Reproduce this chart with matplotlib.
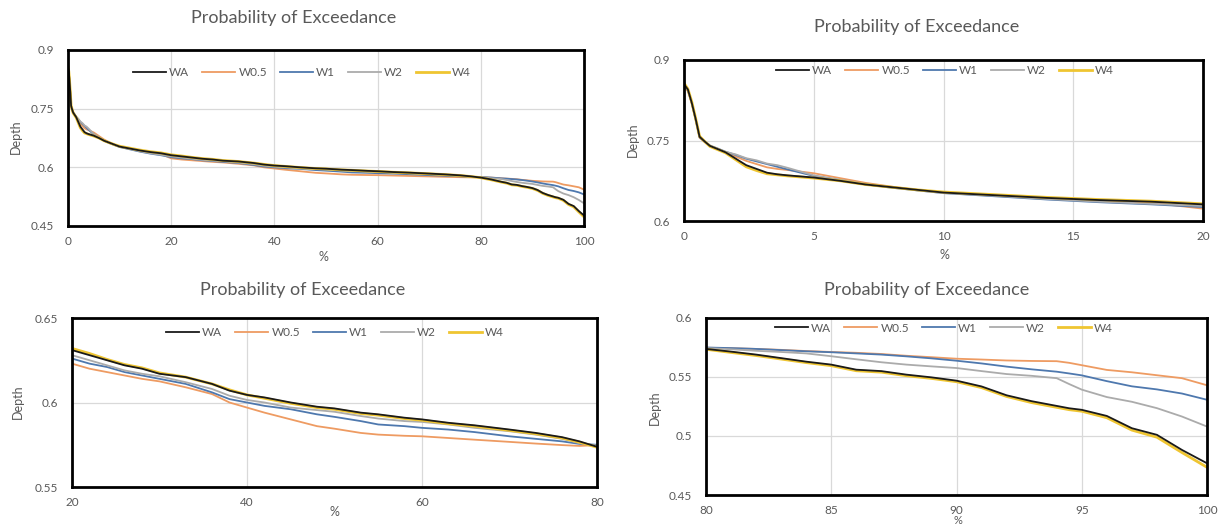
import matplotlib
matplotlib.use("Agg")
import matplotlib.pyplot as plt

plt.rcParams['font.family'] = ['Lato', 'DejaVu Sans']

# ---------------- data ----------------
pct = [0, 0.15, 0.3, 0.45, 0.6, 0.8, 1.0, 1.3, 1.6, 2.0, 2.4, 2.8, 3.2, 3.6, 4.0, 4.5, 5, 6, 7, 8, 9, 10, 12, 14, 16, 18,
       20, 22, 24, 26, 28, 30, 33, 36, 38, 40, 42, 45, 48, 50, 53, 55, 58, 60, 63, 66, 70, 73, 76, 78,
       80, 81, 82, 83, 84, 85, 86, 87, 88, 89, 90, 91, 92, 93, 94, 94.5, 95, 96, 97, 98, 99, 100]

depth_WA = [0.855, 0.845, 0.820, 0.790, 0.757, 0.748, 0.740, 0.734, 0.728, 0.716, 0.704, 0.697, 0.690, 0.687, 0.685, 0.683, 0.681, 0.675, 0.668, 0.663, 0.658, 0.653, 0.648, 0.643, 0.639, 0.636,
            0.631, 0.628, 0.625, 0.622, 0.620, 0.617, 0.615, 0.611, 0.607, 0.6045, 0.603, 0.600, 0.5975, 0.5965, 0.594, 0.593, 0.591, 0.590, 0.588, 0.5865, 0.584, 0.582, 0.5795, 0.577,
            0.5738, 0.5715, 0.5690, 0.5660, 0.5630, 0.5605, 0.5562, 0.5550, 0.5520, 0.5497, 0.5469, 0.5420, 0.5345, 0.5295, 0.5255, 0.5235, 0.5222, 0.5170, 0.5066, 0.5010, 0.4882, 0.4769]

depth_W05 = [0.852, 0.842, 0.818, 0.788, 0.755, 0.747, 0.739, 0.734, 0.728, 0.720, 0.712, 0.706, 0.700, 0.697, 0.695, 0.692, 0.689, 0.680, 0.671, 0.664, 0.658, 0.653, 0.647, 0.642, 0.637, 0.634,
             0.623, 0.620, 0.618, 0.616, 0.614, 0.6125, 0.609, 0.605, 0.600, 0.597, 0.594, 0.590, 0.586, 0.5845, 0.582, 0.581, 0.5803, 0.580, 0.579, 0.578, 0.5767, 0.5757, 0.5748, 0.5743,
             0.5748, 0.5744, 0.5738, 0.5730, 0.5720, 0.5712, 0.5705, 0.5695, 0.5680, 0.5668, 0.5655, 0.5648, 0.5640, 0.5636, 0.5634, 0.5620, 0.5600, 0.5560, 0.5540, 0.5515, 0.5490, 0.5430]

depth_W1 = [0.853, 0.844, 0.820, 0.789, 0.756, 0.748, 0.740, 0.735, 0.729, 0.723, 0.716, 0.711, 0.706, 0.701, 0.696, 0.690, 0.684, 0.676, 0.668, 0.662, 0.657, 0.652, 0.646, 0.640, 0.635, 0.631,
            0.626, 0.623, 0.621, 0.618, 0.616, 0.614, 0.611, 0.606, 0.602, 0.600, 0.598, 0.596, 0.593, 0.5915, 0.589, 0.587, 0.586, 0.585, 0.584, 0.5825, 0.580, 0.5785, 0.577, 0.5755,
            0.5750, 0.5745, 0.5738, 0.5728, 0.5718, 0.5710, 0.5700, 0.5690, 0.5675, 0.5658, 0.5638, 0.5615, 0.5588, 0.5565, 0.5545, 0.5530, 0.5514, 0.5465, 0.5421, 0.5395, 0.5360, 0.5307]

depth_W2 = [0.854, 0.844, 0.821, 0.790, 0.757, 0.749, 0.741, 0.735, 0.729, 0.724, 0.717, 0.713, 0.707, 0.704, 0.699, 0.692, 0.685, 0.677, 0.669, 0.663, 0.657, 0.652, 0.647, 0.641, 0.636, 0.632,
            0.628, 0.625, 0.622, 0.619, 0.617, 0.6155, 0.612, 0.608, 0.604, 0.6015, 0.600, 0.597, 0.5955, 0.5945, 0.592, 0.5905, 0.589, 0.5885, 0.587, 0.585, 0.583, 0.581, 0.5785, 0.576,
            0.5745, 0.5735, 0.5722, 0.5712, 0.5700, 0.5676, 0.5650, 0.5625, 0.5605, 0.5590, 0.5576, 0.5550, 0.5525, 0.5510, 0.5490, 0.5440, 0.5393, 0.5330, 0.5290, 0.5236, 0.5165, 0.5080]

depth_W4 = [0.857, 0.846, 0.822, 0.791, 0.758, 0.748, 0.739, 0.733, 0.727, 0.714, 0.701, 0.694, 0.688, 0.686, 0.684, 0.682, 0.680, 0.675, 0.668, 0.663, 0.658, 0.654, 0.649, 0.644, 0.640, 0.637,
            0.632, 0.629, 0.6255, 0.6225, 0.6205, 0.6175, 0.615, 0.611, 0.6075, 0.6045, 0.6025, 0.5995, 0.597, 0.596, 0.5935, 0.5925, 0.5905, 0.5895, 0.5875, 0.586, 0.5835, 0.5815, 0.579, 0.5765,
            0.5735, 0.5708, 0.5682, 0.5652, 0.5622, 0.5596, 0.5553, 0.5541, 0.5511, 0.5488, 0.5460, 0.5410, 0.5335, 0.5283, 0.5243, 0.5223, 0.5210, 0.5155, 0.5050, 0.4990, 0.4860, 0.4735]

series_names = ["WA", "W0.5", "W1", "W2", "W4"]
series_values = [depth_WA, depth_W05, depth_W1, depth_W2, depth_W4]

title_text = "Probability of Exceedance"
xlabel_text = "%"
ylabel_text = "Depth"

# panel ranges and ticks
p1_xticks = [0, 20, 40, 60, 80, 100]
p1_yticks = [0.45, 0.6, 0.75, 0.9]
p2_xticks = [0, 5, 10, 15, 20]
p2_yticks = [0.6, 0.75, 0.9]
p3_xticks = [20, 40, 60, 80]
p3_yticks = [0.55, 0.6, 0.65]
p4_xticks = [80, 85, 90, 95, 100]
p4_yticks = [0.45, 0.5, 0.55, 0.6]

# ---------------- style ----------------
colors = ["#1a1a1a", "#EE9B62", "#4E78AE", "#ABABAB", "#EFC531"]
lws = [1.3, 1.3, 1.3, 1.3, 2.0]
zords = [6, 2, 3, 4, 5]
txt_color = "#595959"

W, H = 1220, 525
fig = plt.figure(figsize=(W / 100, H / 100), dpi=100)


def rect(l, r, t, b):
    return [l / W, 1 - b / H, (r - l) / W, (b - t) / H]


def fmt(v):
    s = ("%.2f" % v).rstrip("0").rstrip(".")
    return s


panels = [
    dict(box=(68, 584, 50, 226), xt=p1_xticks, yt=p1_yticks,
         title=(294, 18), leg=(302, 73), ylab=(16, 137), xlab=(323, 257), xls=9),
    dict(box=(684, 1203, 60, 221), xt=p2_xticks, yt=p2_yticks,
         title=(917, 27), leg=(945, 71), ylab=(633, 140), xlab=(944, 255), xls=9),
    dict(box=(72, 597, 318, 487), xt=p3_xticks, yt=p3_yticks,
         title=(303, 290), leg=(335, 333), ylab=(18, 402), xlab=(334, 512), xls=9),
    dict(box=(706, 1207, 318, 495), xt=p4_xticks, yt=p4_yticks,
         title=(927, 290), leg=(944, 328), ylab=(655, 408), xlab=(958, 520), xls=8),
]

for p in panels:
    ax = fig.add_axes(rect(*p["box"]))
    for name, vals, c, lw, z in zip(series_names, series_values, colors, lws, zords):
        ax.plot(pct, vals, color=c, lw=lw, label=name, zorder=z, solid_joinstyle="round")
    ax.set_xlim(p["xt"][0], p["xt"][-1])
    ax.set_ylim(p["yt"][0], p["yt"][-1])
    ax.set_xticks(p["xt"])
    ax.set_yticks(p["yt"])
    ax.set_xticklabels([fmt(v) for v in p["xt"]])
    ax.set_yticklabels([fmt(v) for v in p["yt"]])
    ax.tick_params(length=0, labelsize=8.5, labelcolor=txt_color)
    ax.tick_params(axis="y", pad=10)
    ax.tick_params(axis="x", pad=7)
    ax.grid(True, color="#D9D9D9", lw=0.9, zorder=0)
    ax.set_axisbelow(True)
    for s in ax.spines.values():
        s.set_color("black")
        s.set_linewidth(2.0)
        s.set_zorder(10)
    handles, labels = ax.get_legend_handles_labels()
    ax.legend(handles, labels,
              loc="center", bbox_to_anchor=(p["leg"][0] / W, 1 - p["leg"][1] / H),
              bbox_transform=fig.transFigure, ncol=5, frameon=False,
              fontsize=8.5, handlelength=2.8, handletextpad=0.25, columnspacing=1.1,
              labelcolor=txt_color, borderpad=0)
    fig.text(p["title"][0] / W, 1 - p["title"][1] / H, title_text, ha="center", va="center",
             fontsize=13, color=txt_color)
    fig.text(p["ylab"][0] / W, 1 - p["ylab"][1] / H, ylabel_text, ha="center", va="center",
             rotation=90, fontsize=9, color=txt_color)
    fig.text(p["xlab"][0] / W, 1 - p["xlab"][1] / H, xlabel_text, ha="center", va="center",
             fontsize=p["xls"], color=txt_color)

fig.savefig("out.png", dpi=100, facecolor="white")
